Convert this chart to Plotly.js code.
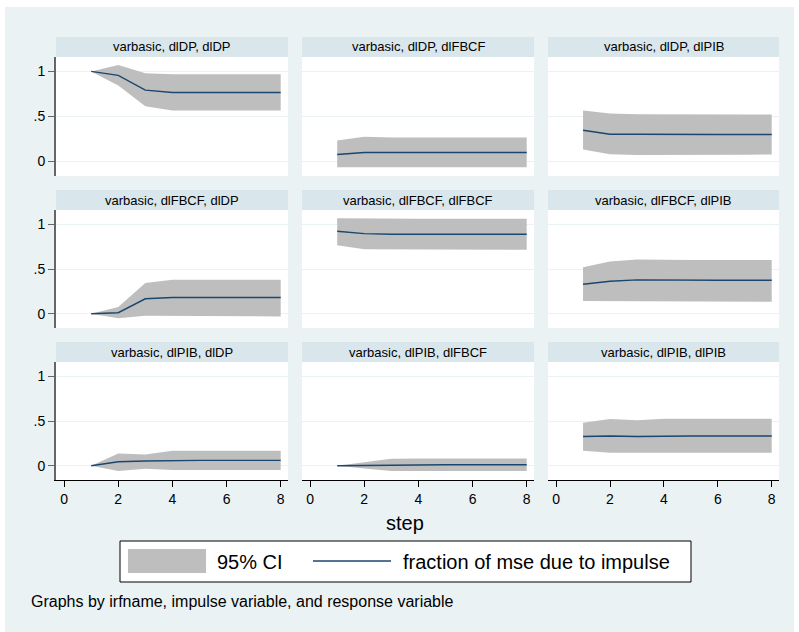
<!DOCTYPE html>
<html><head><meta charset="utf-8">
<script src="https://cdn.plot.ly/plotly-3.0.1.min.js"></script>
<style>html,body{margin:0;padding:0;background:#fff;}#chart{width:799px;height:632px;}</style>
</head><body><div id="chart"></div>
<script>
// ---------- data ----------
const steps = [1, 2, 3, 4, 5, 6, 7, 8];
const xTickVals = [0, 2, 4, 6, 8];
const yTickVals = [0, 0.5, 1];
const yTickText = ['0', '.5', '1'];

const panelTitles = [
  'varbasic, dlDP, dlDP', 'varbasic, dlDP, dlFBCF', 'varbasic, dlDP, dlPIB',
  'varbasic, dlFBCF, dlDP', 'varbasic, dlFBCF, dlFBCF', 'varbasic, dlFBCF, dlPIB',
  'varbasic, dlPIB, dlDP', 'varbasic, dlPIB, dlFBCF', 'varbasic, dlPIB, dlPIB'
];

// fraction of mse due to impulse, and 95% CI bounds
const fevd_DP_DP   = [1.000, 0.956, 0.792, 0.767, 0.766, 0.766, 0.766, 0.766];
const lo_DP_DP     = [1.000, 0.844, 0.614, 0.566, 0.566, 0.566, 0.566, 0.566];
const hi_DP_DP     = [1.000, 1.070, 0.981, 0.970, 0.970, 0.970, 0.970, 0.970];

const fevd_DP_FBCF = [0.078, 0.100, 0.100, 0.100, 0.100, 0.100, 0.100, 0.100];
const lo_DP_FBCF   = [-0.063, -0.063, -0.064, -0.064, -0.064, -0.064, -0.064, -0.064];
const hi_DP_FBCF   = [0.233, 0.274, 0.267, 0.267, 0.267, 0.267, 0.267, 0.267];

const fevd_DP_PIB  = [0.348, 0.303, 0.303, 0.300, 0.300, 0.300, 0.300, 0.300];
const lo_DP_PIB    = [0.133, 0.081, 0.074, 0.074, 0.075, 0.076, 0.077, 0.078];
const hi_DP_PIB    = [0.567, 0.533, 0.526, 0.523, 0.522, 0.522, 0.522, 0.522];

const fevd_FBCF_DP   = [0.000, 0.011, 0.167, 0.181, 0.181, 0.181, 0.181, 0.181];
const lo_FBCF_DP     = [0.000, -0.052, -0.022, -0.030, -0.030, -0.030, -0.030, -0.030];
const hi_FBCF_DP     = [0.000, 0.074, 0.344, 0.381, 0.381, 0.381, 0.381, 0.381];

const fevd_FBCF_FBCF = [0.922, 0.896, 0.889, 0.889, 0.889, 0.889, 0.889, 0.889];
const lo_FBCF_FBCF   = [0.767, 0.722, 0.714, 0.714, 0.714, 0.714, 0.714, 0.714];
const hi_FBCF_FBCF   = [1.067, 1.063, 1.063, 1.063, 1.063, 1.063, 1.063, 1.063];

const fevd_FBCF_PIB  = [0.329, 0.363, 0.378, 0.374, 0.374, 0.374, 0.374, 0.374];
const lo_FBCF_PIB    = [0.141, 0.137, 0.133, 0.133, 0.133, 0.133, 0.133, 0.133];
const hi_FBCF_PIB    = [0.519, 0.585, 0.607, 0.600, 0.600, 0.600, 0.600, 0.600];

const fevd_PIB_DP    = [0.000, 0.044, 0.052, 0.059, 0.059, 0.059, 0.059, 0.059];
const lo_PIB_DP      = [0.000, -0.059, -0.033, -0.048, -0.048, -0.048, -0.048, -0.048];
const hi_PIB_DP      = [0.000, 0.137, 0.126, 0.167, 0.167, 0.167, 0.167, 0.167];

const fevd_PIB_FBCF  = [0.000, 0.003, 0.011, 0.011, 0.011, 0.011, 0.011, 0.011];
const lo_PIB_FBCF    = [0.000, -0.030, -0.059, -0.059, -0.059, -0.059, -0.059, -0.059];
const hi_PIB_FBCF    = [0.000, 0.041, 0.078, 0.081, 0.081, 0.081, 0.081, 0.081];

const fevd_PIB_PIB   = [0.326, 0.333, 0.326, 0.333, 0.333, 0.333, 0.333, 0.333];
const lo_PIB_PIB     = [0.167, 0.144, 0.137, 0.144, 0.144, 0.144, 0.144, 0.144];
const hi_PIB_PIB     = [0.481, 0.522, 0.507, 0.526, 0.526, 0.526, 0.526, 0.526];

const legendLabels = ['95% CI', 'fraction of mse due to impulse'];
const xTitle = 'step';
const noteText = 'Graphs by irfname, impulse variable, and response variable';

// ---------- layout helpers ----------
const panels = [
  [fevd_DP_DP, lo_DP_DP, hi_DP_DP], [fevd_DP_FBCF, lo_DP_FBCF, hi_DP_FBCF], [fevd_DP_PIB, lo_DP_PIB, hi_DP_PIB],
  [fevd_FBCF_DP, lo_FBCF_DP, hi_FBCF_DP], [fevd_FBCF_FBCF, lo_FBCF_FBCF, hi_FBCF_FBCF], [fevd_FBCF_PIB, lo_FBCF_PIB, hi_FBCF_PIB],
  [fevd_PIB_DP, lo_PIB_DP, hi_PIB_DP], [fevd_PIB_FBCF, lo_PIB_FBCF, hi_PIB_FBCF], [fevd_PIB_PIB, lo_PIB_PIB, hi_PIB_PIB]
];

const W = 799, H = 632;
const px = v => v / W;
const py = v => 1 - v / H;
const FONT = 'Liberation Sans, Arial, Helvetica, sans-serif';
const BG = '#eaf2f3', STRIP = '#d9e6eb', BAND = '#bebebe', LINE = '#1a476f';

const colX = [[56, 288], [302, 534], [548, 779]];
const rowY = [[57, 176], [210, 328], [362, 480]];
const stripY = [[37, 57], [190, 210], [342, 362]];

const data = [];
const layout = {
  width: W, height: H,
  margin: {l: 0, r: 0, t: 0, b: 0},
  paper_bgcolor: BG,
  plot_bgcolor: '#ffffff',
  showlegend: false,
  font: {family: FONT, color: '#000', size: 13},
  shapes: [],
  annotations: []
};

panels.forEach((p, i) => {
  const r = Math.floor(i / 3), c = i % 3;
  const n = i === 0 ? '' : String(i + 1);
  const xa = 'x' + n, ya = 'y' + n;
  const [fevd, lo, hi] = p;

  data.push({
    x: steps.concat(steps.slice().reverse()),
    y: hi.concat(lo.slice().reverse()),
    xaxis: xa, yaxis: ya,
    type: 'scatter', mode: 'lines',
    fill: 'toself', fillcolor: BAND,
    line: {width: 0, color: BAND},
    hoverinfo: 'skip', name: legendLabels[0]
  });
  data.push({
    x: steps, y: fevd,
    xaxis: xa, yaxis: ya,
    type: 'scatter', mode: 'lines',
    line: {width: 1.4, color: LINE},
    name: legendLabels[1]
  });

  layout['xaxis' + n] = {
    domain: [px(colX[c][0]), px(colX[c][1])],
    range: [-0.3, 8.27],
    anchor: ya,
    showgrid: false, zeroline: false,
    tickmode: 'array', tickvals: xTickVals,
    showticklabels: r === 2,
    ticks: r === 2 ? 'outside' : '',
    ticklen: 6, tickwidth: 1, tickcolor: '#000',
    showline: r === 2, linecolor: '#000', linewidth: 1,
    tickfont: {size: 14, color: '#000', family: FONT},
    fixedrange: true
  };
  layout['yaxis' + n] = {
    domain: [py(rowY[r][1]), py(rowY[r][0])],
    range: [-0.16, 1.16],
    anchor: xa,
    showgrid: true, gridcolor: BG, gridwidth: 1,
    zeroline: false,
    tickmode: 'array', tickvals: yTickVals, ticktext: yTickText,
    showticklabels: c === 0,
    ticks: c === 0 ? 'outside' : '',
    ticklen: 6, tickwidth: 1, tickcolor: '#666',
    showline: c === 0, linecolor: '#666', linewidth: 2,
    tickfont: {size: 14, color: '#000', family: FONT},
    fixedrange: true
  };

  // strip
  layout.shapes.push({
    type: 'rect', xref: 'paper', yref: 'paper',
    x0: px(colX[c][0]), x1: px(colX[c][1]),
    y0: py(stripY[r][1]), y1: py(stripY[r][0]),
    fillcolor: STRIP, line: {width: 0}
  });
  layout.annotations.push({
    xref: 'paper', yref: 'paper',
    x: px((colX[c][0] + colX[c][1]) / 2), y: py((stripY[r][0] + stripY[r][1]) / 2),
    xanchor: 'center', yanchor: 'middle', showarrow: false,
    text: panelTitles[i], font: {size: 13, color: '#000', family: FONT}
  });
});

// outer white border
[[0, 0, 5, H], [0, 0, W, 7], [794, 0, W, H]].forEach(b => {
  layout.shapes.push({type: 'rect', xref: 'paper', yref: 'paper',
    x0: px(b[0]), x1: px(b[2]), y0: py(b[3]), y1: py(b[1]),
    fillcolor: '#ffffff', line: {width: 0}});
});

// x title
layout.annotations.push({xref: 'paper', yref: 'paper', x: px(405.5), y: py(522.7),
  xanchor: 'center', yanchor: 'middle', showarrow: false,
  text: xTitle, font: {size: 20, color: '#000', family: FONT}});

// legend box
layout.shapes.push({type: 'rect', xref: 'paper', yref: 'paper',
  x0: px(120), x1: px(691), y0: py(582), y1: py(541),
  fillcolor: '#ffffff', line: {color: '#000', width: 1}});
layout.shapes.push({type: 'rect', xref: 'paper', yref: 'paper',
  x0: px(128), x1: px(206), y0: py(573), y1: py(549),
  fillcolor: BAND, line: {width: 0}});
layout.shapes.push({type: 'line', xref: 'paper', yref: 'paper',
  x0: px(313), x1: px(391), y0: py(561), y1: py(561),
  line: {color: LINE, width: 1.5}});
layout.annotations.push({xref: 'paper', yref: 'paper', x: px(215), y: py(561.5),
  xanchor: 'left', yanchor: 'middle', showarrow: false,
  text: legendLabels[0], font: {size: 20, color: '#000', family: FONT}});
layout.annotations.push({xref: 'paper', yref: 'paper', x: px(401), y: py(561.5),
  xanchor: 'left', yanchor: 'middle', showarrow: false,
  text: legendLabels[1], font: {size: 20, color: '#000', family: FONT}});

// note
layout.annotations.push({xref: 'paper', yref: 'paper', x: px(29), y: py(601.5),
  xanchor: 'left', yanchor: 'middle', showarrow: false,
  text: noteText, font: {size: 16, color: '#000', family: FONT}});

Plotly.newPlot('chart', data, layout, {displayModeBar: false, staticPlot: true});
</script>
</body></html>
